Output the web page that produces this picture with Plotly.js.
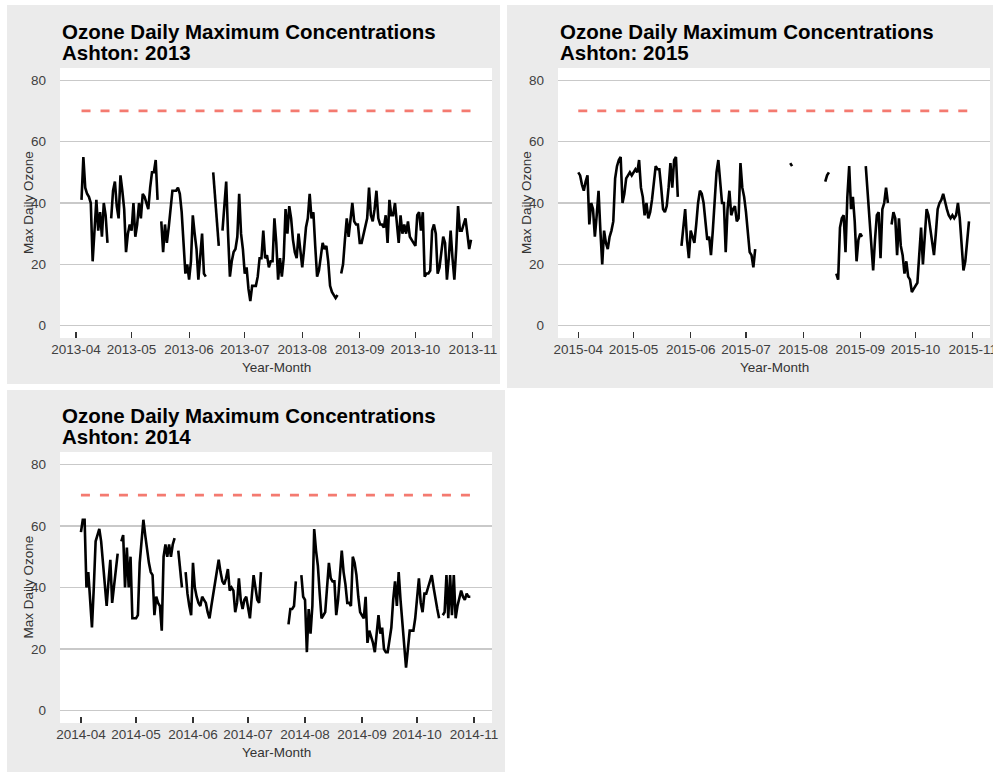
<!DOCTYPE html>
<html>
<head>
<meta charset="utf-8">
<script src="https://cdn.plot.ly/plotly-3.0.1.min.js"></script>
<style>
html, body { margin:0; padding:0; background:#ffffff; width:993px; height:772px; overflow:hidden; }
.panel { position:absolute; }
</style>
</head>
<body>
<div id="p2013" class="panel" style="left:7px;top:5px;width:493px;height:379px"></div>
<div id="p2015" class="panel" style="left:507px;top:5px;width:493px;height:383px"></div>
<div id="p2014" class="panel" style="left:7px;top:390px;width:498px;height:382px"></div>
<script>
// ---- data (daily max ozone, ppb) ----
const standardLevel = 70;
const titleLine1 = "Ozone Daily Maximum Concentrations";
const siteName = "Ashton";
const xTitle = "Year-Month";
const yTitle = "Max Daily Ozone";
const yTicks = [0, 20, 40, 60, 80];

// first day offset (days after 1 April) of each series
const start2013 = 3;
const ozone2013 = [
  41,55,45,43,42,40,21,30,41,31,37,29,40,36,27,
  null,
  35,44,47,39,35,49,44,38,24,30,33,31,40,29,33,40,35,43,42,40,38,45,50,50,54,41,
  null,
  34,24,33,27,32,38,44,44,44,45,43,37,25,17,20,15,21,36,30,25,15,23,30,17,16,
  null,null,null,
  50,42,34,26,
  null,
  31,40,47,30,16,21,24,25,29,43,
  30,25,17,19,12,8,13,13,13,16,
  22,22,31,22,23,19,21,21,35,27,
  15,22,16,22,38,30,39,35,28,24,
  22,30,25,19,25,32,35,43,35,37,
  26,16,18,23,27,25,26,21,13,11,
  10,9,10,
  null,
  17,20,28,35,29,35,40,34,33,33,
  27,27,30,33,35,45,36,34,38,44,
  35,33,33,32,36,27,41,36,36,40,
  34,27,36,30,33,30,34,29,28,27,
  26,36,37,31,37,16,17,17,18,31,
  33,30,17,19,24,29,27,15,22,31,
  22,15,25,39,31,31,33,35,30,25,
  28
];

const start2015 = 0;
const ozone2015 = [
  50,49,46,44,47,49,33,40,38,29,
  36,44,31,20,31,27,25,29,31,34,
  48,52,54,55,40,43,48,49,50,49,
  50,51,50,54,45,42,36,40,35,37,
  41,47,52,51,51,45,38,37,39,45,
  53,45,54,55,42,
  null,
  26,32,38,28,22,31,29,27,33,40,
  44,43,40,35,28,29,23,31,42,50,
  54,48,40,40,24,38,44,36,38,39,
  34,35,53,45,42,37,31,24,23,19,
  25,
  null,null,null,null,null,null,null,null,null,null,null,null,null,null,null,null,null,null,
  53,52,
  null,null,null,null,null,null,null,null,null,null,null,null,null,null,null,null,null,
  47,49,50,
  null,null,null,
  17,15,32,35,36,24,42,52,38,42,34,21,28,30,29,
  null,
  52,44,35,27,18,28,36,37,22,38,40,45,40,
  null,
  33,37,35,23,35,26,23,17,21,16,
  15,11,12,13,14,23,32,20,30,38,
  36,32,27,23,30,38,40,41,43,40,
  38,36,35,36,35,36,40,35,26,18,
  21,27,34
];

const start2014 = 0;
const ozone2014 = [
  58,62,62,40,45,36,27,40,55,57,
  59,55,48,40,34,42,49,35,41,47,
  51,
  null,
  55,57,40,53,40,50,30,30,30,31,
  48,55,62,57,52,48,45,44,31,37,
  35,34,26,50,54,50,54,50,54,56,
  null,
  52,46,40,
  null,
  45,38,34,31,48,40,37,35,34,37,
  36,35,32,30,34,38,42,46,49,45,
  42,41,43,46,39,40,39,32,35,43,
  36,33,36,37,34,30,37,44,40,36,
  35,45,
  null,null,null,null,null,null,null,null,null,null,null,null,null,null,
  28,33,33,34,42,
  null,null,
  44,37,36,19,33,25,34,59,52,47,
  38,30,31,32,40,48,43,42,42,31,
  36,43,52,45,41,35,35,34,50,48,
  44,37,32,31,30,37,22,26,24,22,
  19,25,31,25,27,20,19,19,24,27,
  36,42,34,45,36,28,20,14,20,26,
  26,26,30,36,43,35,32,38,38,40,
  42,44,40,36,33,30,
  null,
  31,32,44,30,44,31,44,30,34,37,39,37,36,38,37,37
];

// ---- helpers ----
const DAY = 86400000;
function dateStr(year, d) {
  return new Date(Date.UTC(year, 3, 1) + d * DAY).toISOString().slice(0, 10);
}
function rangeStr(year, d) {
  return new Date(Date.UTC(year, 3, 1) + d * DAY).toISOString().replace('T', ' ').slice(0, 19);
}

const FONT = '"Liberation Sans", Arial, Helvetica, sans-serif';

function drawPanel(id, year, start, values, geom) {
  const x = values.map((v, i) => dateStr(year, start + i));
  let first = -1, last = -1;
  values.forEach((v, i) => { if (v !== null) { if (first < 0) first = i; last = i; } });

  const dataTrace = {
    type: 'scatter', mode: 'lines', x: x, y: values,
    connectgaps: false,
    line: { color: '#000000', width: 2.6 },
    hoverinfo: 'skip'
  };
  const stdTrace = {
    type: 'scatter', mode: 'lines',
    x: [x[first], x[last]], y: [standardLevel, standardLevel],
    line: { color: '#f47a70', width: 2.8, dash: '9px,10px' },
    hoverinfo: 'skip'
  };

  const layout = {
    width: geom.w, height: geom.h,
    margin: { l: geom.l, r: geom.r, t: geom.t, b: geom.b, pad: 0 },
    paper_bgcolor: '#ebebeb', plot_bgcolor: '#ffffff',
    showlegend: false,
    font: { family: FONT, color: '#444444' },
    xaxis: {
      type: 'date',
      range: [rangeStr(year, geom.x0), rangeStr(year, geom.x1)],
      tick0: year + '-04-01', dtick: 'M1', tickformat: '%Y-%m',
      ticks: 'inside', ticklen: 6, tickwidth: 1.2, tickcolor: '#333333',
      showgrid: false, zeroline: false, showline: false,
      tickfont: { family: FONT, size: 13.5, color: '#404040' },
      ticklabelstandoff: 1,
      fixedrange: true
    },
    yaxis: {
      range: [-4, 84], tickvals: yTicks, ticktext: yTicks.map(String),
      showgrid: true, gridcolor: '#c9c9c9', gridwidth: 1.4,
      zeroline: false, showline: false, ticks: '',
      ticklabelstandoff: 13,
      tickfont: { family: FONT, size: 13.5, color: '#404040' },
      fixedrange: true
    },
    annotations: [
      { text: '<b>' + titleLine1 + '</b>', xref: 'paper', yref: 'paper', x: 0, y: 1,
        xanchor: 'left', yanchor: 'bottom', yshift: 23, showarrow: false,
        font: { family: FONT, size: 20.5, color: '#000000' } },
      { text: '<b>' + siteName + ': ' + year + '</b>', xref: 'paper', yref: 'paper', x: 0, y: 1,
        xanchor: 'left', yanchor: 'bottom', yshift: 2.5, showarrow: false,
        font: { family: FONT, size: 20.5, color: '#000000' } },
      { text: xTitle, xref: 'paper', yref: 'paper', x: 0.5, y: 0,
        xanchor: 'center', yanchor: 'middle', yshift: -29, showarrow: false,
        font: { family: FONT, size: 13.5, color: '#333333' } },
      { text: yTitle, xref: 'paper', yref: 'paper', x: 0, y: 0.5, textangle: -90,
        xanchor: 'center', yanchor: 'middle', xshift: -32, showarrow: false,
        font: { family: FONT, size: 13.5, color: '#333333' } }
    ]
  };
  Plotly.newPlot(id, [stdTrace, dataTrace], layout, { staticPlot: true, displayModeBar: false });
}

drawPanel('p2013', 2013, start2013, ozone2013,
  { w: 493, h: 379, l: 53, r: 8, t: 63, b: 46, x0: -8.6, x1: 224.3 });
drawPanel('p2015', 2015, start2015, ozone2015,
  { w: 493, h: 383, l: 51, r: 10, t: 63, b: 50, x0: -11, x1: 223.4 });
drawPanel('p2014', 2014, start2014, ozone2014,
  { w: 498, h: 382, l: 53, r: 13, t: 62, b: 49, x0: -11.4, x1: 223.8 });
</script>
</body>
</html>
